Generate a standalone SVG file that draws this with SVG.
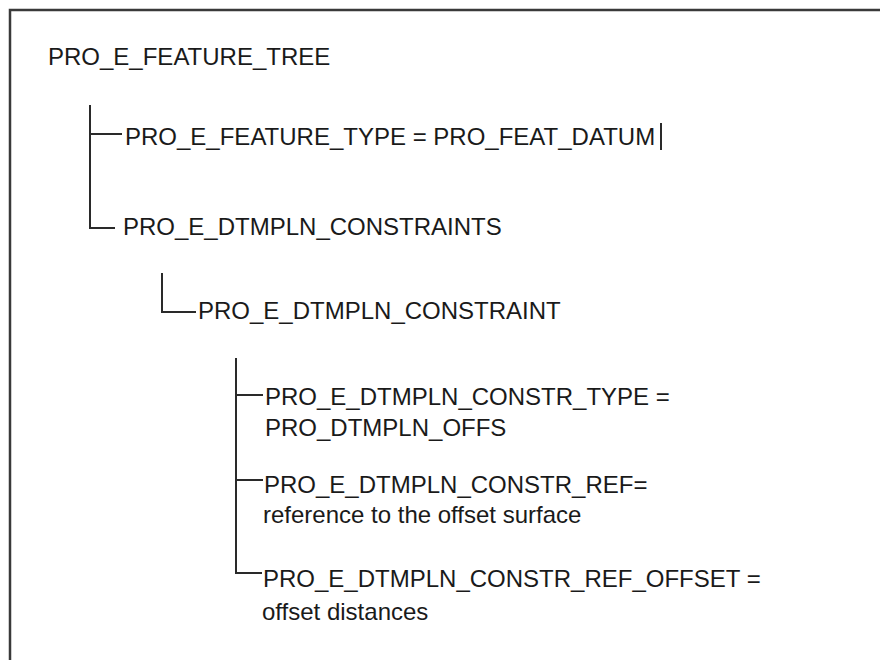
<svg xmlns="http://www.w3.org/2000/svg" width="880" height="660" viewBox="0 0 880 660">
  <style>
    .t { font-family: "Liberation Sans", Arial, sans-serif; font-size: 24px; fill: #1a1a1a; }
    .c { fill: none; stroke: #2a2a2a; stroke-width: 2; }
    .frame { fill: none; stroke: #3a3a3a; stroke-width: 2.5; }
  </style>
  <rect x="0" y="0" width="880" height="660" fill="#ffffff"/>
  <path class="frame" d="M10,660 V10 H880"/>

  <g id="connectors">
    <path class="c" d="M90,105 V228 H115"/>
    <path class="c" d="M90,134 H122"/>
    <path class="c" d="M162,273 V312 H196"/>
    <path class="c" d="M236,358 V573 H262"/>
    <path class="c" d="M236,395 H263"/>
    <path class="c" d="M236,480 H263"/>
  </g>

  <g id="feature-tree">
    <text class="t" x="48" y="65">PRO_E_FEATURE_TREE</text>
  </g>
  <g id="feature-type">
    <text class="t" x="125" y="145">PRO_E_FEATURE_TYPE = PRO_FEAT_DATUM</text>
    <line class="c" x1="661" y1="123" x2="661" y2="150"/>
  </g>
  <g id="dtmpln-constraints">
    <text class="t" x="123" y="235">PRO_E_DTMPLN_CONSTRAINTS</text>
  </g>
  <g id="dtmpln-constraint">
    <text class="t" x="198" y="319">PRO_E_DTMPLN_CONSTRAINT</text>
  </g>
  <g id="constr-type">
    <text class="t" x="265" y="405">PRO_E_DTMPLN_CONSTR_TYPE =</text>
    <text class="t" x="265" y="436">PRO_DTMPLN_OFFS</text>
  </g>
  <g id="constr-ref">
    <text class="t" x="264" y="493">PRO_E_DTMPLN_CONSTR_REF=</text>
    <text class="t" x="263" y="523">reference to the offset surface</text>
  </g>
  <g id="constr-ref-offset">
    <text class="t" x="263" y="587">PRO_E_DTMPLN_CONSTR_REF_OFFSET =</text>
    <text class="t" x="262" y="620">offset distances</text>
  </g>
</svg>
